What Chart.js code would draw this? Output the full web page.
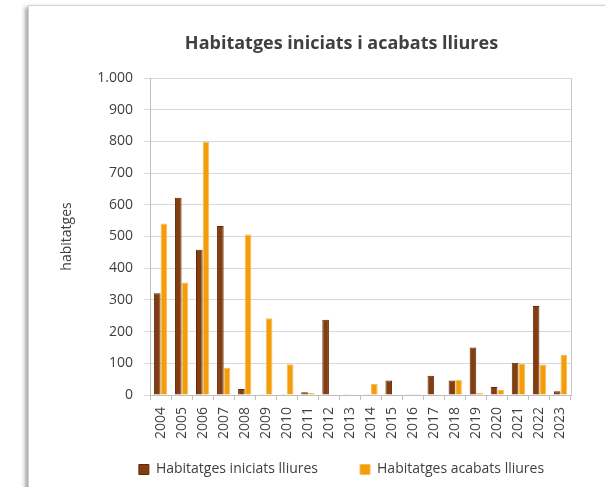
<!DOCTYPE html>
<html>
<head>
<meta charset="utf-8">
<script src="https://cdn.jsdelivr.net/npm/chart.js@4/dist/chart.umd.min.js"></script>
<style>
  html, body { margin: 0; padding: 0; background: #fff; overflow: hidden; }
  #frame {
    position: absolute; left: 28px; top: 5px; width: 640px; height: 520px;
    background: #fff; border: 1px solid #d2d2d2;
    box-shadow: -3px 2px 4px rgba(0,0,0,0.35);
  }
  #wrap { position: relative; width: 605px; height: 487px; }
</style>
</head>
<body>
<div id="frame"></div>
<div id="wrap"><canvas id="chart" width="605" height="487"></canvas></div>
<script>
// years on the x axis
var years = ['2004', '2005', '2006', '2007', '2008', '2009', '2010', '2011', '2012', '2013',
             '2014', '2015', '2016', '2017', '2018', '2019', '2020', '2021', '2022', '2023'];

// habitatges iniciats lliures
var iniciats = [321, 622, 458, 533, 19, 1, 1, 9, 237, 2, 2, 46, 2, 61, 46, 150, 25, 102, 281, 12];

// habitatges acabats lliures
var acabats = [541, 355, 799, 86, 506, 242, 97, 6, 2, 0, 35, 0, 3, 2, 48, 7, 16, 99, 96, 127];

var txt = '#404040';
var font = { family: 'Open Sans', size: 14 };

var ctx = document.getElementById('chart').getContext('2d');

var chart = new Chart(ctx, {
    type: 'bar',
    data: {
        labels: years,
        datasets: [{
            label: 'Habitatges iniciats lliures',
            data: iniciats,
            backgroundColor: '#843d0f',
            borderColor: '#5e2a07',
            borderWidth: 1,
            categoryPercentage: 0.63,
            barPercentage: 1
        }, {
            label: 'Habitatges acabats lliures',
            data: acabats,
            backgroundColor: '#f39d0c',
            borderColor: '#f8bc50',
            borderWidth: 1,
            categoryPercentage: 0.63,
            barPercentage: 1
        }]
    },
    options: {
        responsive: false,
        animation: false,
        layout: { padding: { left: 78, right: 0, top: 33, bottom: 0.5 } },
        plugins: {
            title: {
                display: true,
                text: 'Habitatges iniciats i acabats lliures',
                color: txt,
                font: { family: 'Open Sans', size: 18, weight: 'bold' },
                padding: { top: 0, bottom: 23.4 }
            },
            legend: {
                position: 'bottom',
                labels: {
                    color: txt,
                    font: font,
                    boxWidth: 10,
                    boxHeight: 10,
                    padding: 42
                }
            },
            tooltip: { enabled: false }
        },
        scales: {
            x: {
                grid: { drawOnChartArea: false, drawTicks: true, tickLength: 5, color: '#bfbfbf' },
                border: { color: '#bfbfbf' },
                ticks: { color: txt, font: font, minRotation: 90, maxRotation: 90, autoSkip: false, padding: 7 },
                afterFit: function (s) {
                    s.height = 25.5;
                    // labels hang below the short axis box, so do not clip them to it
                    s._computeLabelArea = function () { return undefined; };
                }
            },
            y: {
                min: 0,
                max: 1000,
                grid: { color: '#d9d9d9', tickLength: 6 },
                border: { color: '#bfbfbf' },
                ticks: {
                    stepSize: 100,
                    color: txt,
                    font: font,
                    padding: 11,
                    callback: function (v) { return v >= 1000 ? (v / 1000) + '.000' : v; }
                },
                title: {
                    display: true,
                    text: 'habitatges',
                    color: txt,
                    font: font,
                    padding: { top: -19.4, bottom: 0 }
                },
                afterFit: function (s) { s.width = 72; }
            },
            y2: {
                position: 'right',
                min: 0,
                max: 1000,
                grid: { drawOnChartArea: false, drawTicks: false },
                border: { color: '#c8c8c8' },
                ticks: { display: false },
                afterFit: function (s) { s.width = 34; }
            }
        }
    }
});
</script>
</body>
</html>
